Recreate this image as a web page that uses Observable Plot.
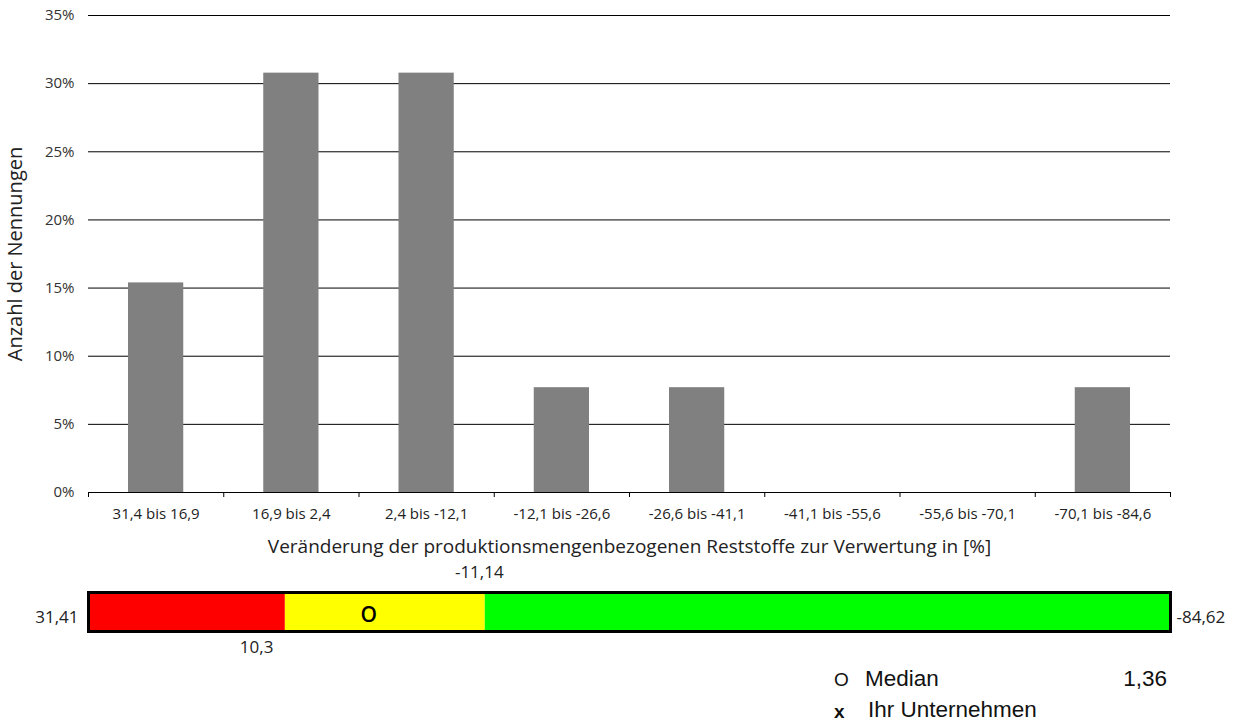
<!DOCTYPE html>
<html>
<head>
<meta charset="utf-8">
<script src="https://cdn.jsdelivr.net/npm/d3@7"></script>
<script src="https://cdn.jsdelivr.net/npm/@observablehq/plot@0.6"></script>
<style>
  html, body { margin: 0; padding: 0; background: #fff; }
  #wrap { position: relative; width: 1234px; height: 721px; overflow: hidden; font-family: "Open Sans", sans-serif; color: #222; }
  #wrap svg { display: block; }
  .leg { position: absolute; font-family: "Liberation Sans", Arial, sans-serif; font-size: 22.5px; color: #111; white-space: nowrap; line-height: 1; }
</style>
</head>
<body>
<div id="wrap">
  <div id="main"></div>
  <div id="scale"></div>
</div>
<script>
// ---- data ----
const categories = ["31,4 bis 16,9", "16,9 bis 2,4", "2,4 bis -12,1", "-12,1 bis -26,6", "-26,6 bis -41,1", "-41,1 bis -55,6", "-55,6 bis -70,1", "-70,1 bis -84,6"];
const shares = [15.38, 30.77, 30.77, 7.69, 7.69, 0, 0, 7.69];
const yTicks = [0, 5, 10, 15, 20, 25, 30, 35];
const xTitle = "Veränderung der produktionsmengenbezogenen Reststoffe zur Verwertung in [%]";
const yTitle = "Anzahl der Nennungen";

const scaleEnds = [31.41, -84.62];
const scaleEndLabels = ["31,41", "-84,62"];
const thresholds = [10.3, -11.14];
const thresholdLabels = ["10,3", "-11,14"];
const segmentColors = ["#ff0000", "#ffff00", "#00ff00"];
const medianValue = 1.36;
const medianLabel = "1,36";
const legendItems = [
  {symbol: "O", label: "Median", value: medianLabel},
  {symbol: "x", label: "Ihr Unternehmen", value: ""}
];

// ---- main histogram ----
const bars = categories.map((c, i) => ({i, c, v: shares[i]}));
const main = Plot.plot({
  width: 1234,
  height: 555,
  marginLeft: 88,
  marginRight: 64,
  marginTop: 15,
  marginBottom: 63,
  style: {fontFamily: "Open Sans, sans-serif", fontSize: "15px", color: "#222", background: "#fff", overflow: "visible"},
  x: {domain: [0, categories.length]},
  y: {domain: [0, 35]},
  marks: [
    Plot.ruleY(yTicks, {stroke: "#000", strokeWidth: 1}),
    Plot.rectY(bars, {x1: d => d.i, x2: d => d.i + 1, y: "v", fill: "#808080", insetLeft: 40, insetRight: 40}),
    Plot.axisY({ticks: yTicks, tickFormat: d => d + "%", tickSize: 0, tickPadding: 14, label: null, fontSize: 15, fill: "#333"}),
    Plot.axisX({ticks: d3.range(0, categories.length + 1), tickFormat: () => "", tickSize: 5, label: null, stroke: "#000"}),
    Plot.axisX({ticks: categories.map((c, i) => i + 0.5), tickFormat: d => categories[Math.floor(d)], tickSize: 0, tickPadding: 16, label: null, fontSize: 15, fill: "#222"}),
    Plot.ruleY([0], {stroke: "#000"}),
    Plot.text([xTitle], {frameAnchor: "bottom", dy: 60, fontSize: 19, fill: "#222", text: d => d}),
    Plot.text([yTitle], {frameAnchor: "left", textAnchor: "middle", rotate: -90, dx: -73, fontSize: 20, fill: "#222", text: d => d})
  ]
});
document.getElementById("main").appendChild(main);

// ---- colour scale bar ----
const bounds = [scaleEnds[0], ...thresholds, scaleEnds[1]];
const segments = segmentColors.map((col, k) => ({x1: bounds[k], x2: bounds[k + 1], col}));
const scaleBar = Plot.plot({
  width: 1234,
  height: 110,
  marginLeft: 88,
  marginRight: 64,
  marginTop: 37,
  marginBottom: 34,
  style: {fontFamily: "Open Sans, sans-serif", fontSize: "17px", color: "#222", background: "#fff", overflow: "visible"},
  x: {domain: scaleEnds, axis: null},
  y: {domain: [0, 1], axis: null},
  marks: [
    Plot.rect(segments, {x1: "x1", x2: "x2", y1: 0, y2: 1, fill: "col"}),
    Plot.frame({stroke: "#000", strokeWidth: 3}),
    Plot.text([scaleEndLabels[0]], {x: scaleEnds[0], y: 0.5, textAnchor: "end", dx: -10, dy: 6, fontSize: 17, text: d => d}),
    Plot.text([scaleEndLabels[1]], {x: scaleEnds[1], y: 0.5, textAnchor: "start", dx: 6, dy: 6, fontSize: 17, text: d => d}),
    Plot.text([thresholdLabels[0]], {x: thresholds[0], y: 0, textAnchor: "end", dx: -12, dy: 16, fontSize: 17, text: d => d}),
    Plot.text([thresholdLabels[1]], {x: thresholds[1], y: 1, textAnchor: "middle", dx: -6, dy: -20, fontSize: 17, text: d => d}),
    Plot.text(["O"], {x: medianValue, y: 0.5, dy: 3, fontSize: 21, fontWeight: 600, fontFamily: "Open Sans, sans-serif", fill: "#000", text: d => d})
  ]
});
document.getElementById("scale").appendChild(scaleBar);

// ---- legend ----
const wrap = document.getElementById("wrap");
legendItems.forEach((item, k) => {
  const top = 668 + k * 31;
  const sym = document.createElement("div");
  sym.className = "leg";
  sym.style.left = "834px";
  sym.style.top = (k === 0 ? top + 2 : top + 3) + "px";
  sym.style.fontSize = "19px";
  sym.style.fontWeight = k === 0 ? "normal" : "bold";
  sym.textContent = item.symbol;
  wrap.appendChild(sym);
  const lab = document.createElement("div");
  lab.className = "leg";
  lab.style.left = (k === 0 ? 865 : 868) + "px";
  lab.style.top = top + "px";
  lab.textContent = item.label;
  wrap.appendChild(lab);
  if (item.value) {
    const val = document.createElement("div");
    val.className = "leg";
    val.style.right = (1234 - 1167) + "px";
    val.style.top = top + "px";
    val.textContent = item.value;
    wrap.appendChild(val);
  }
});
</script>
</body>
</html>
